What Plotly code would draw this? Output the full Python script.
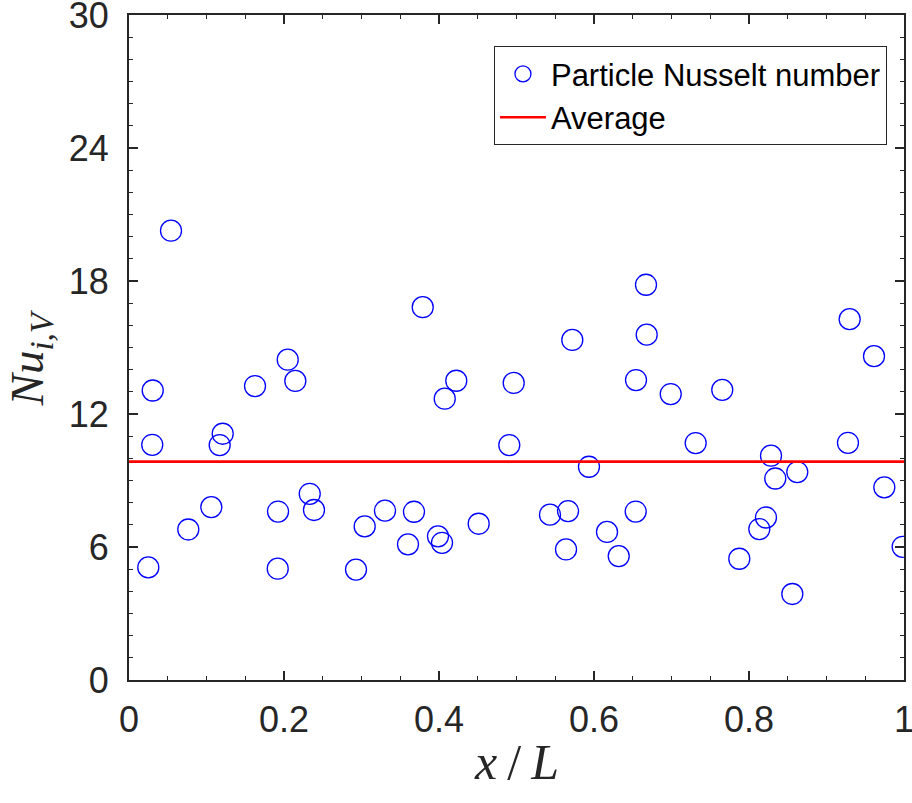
import plotly.graph_objects as go

# Dimensionless particle position along the bed
x_pos = [0.0306, 0.0300, 0.0249, 0.0542, 0.0765, 0.1062, 0.1170, 0.1209, 0.1626,
         0.1923, 0.1919, 0.2048, 0.2146, 0.2332, 0.2387, 0.2929, 0.3041, 0.3303,
         0.3600, 0.3677, 0.3790, 0.3987, 0.4039, 0.4074, 0.4223, 0.4512, 0.4907,
         0.4964, 0.5432, 0.5665, 0.5639, 0.5720, 0.5935, 0.6168, 0.6319, 0.6538,
         0.6542, 0.6671, 0.6680, 0.6990, 0.7312, 0.7655, 0.7875, 0.8133, 0.8219,
         0.8284, 0.8339, 0.8559, 0.8623, 0.9277, 0.9299, 0.9613, 0.9746, 0.9983]

# Volume-averaged Nusselt number of each particle
nu_particle = [13.06, 10.61, 5.08, 20.27, 6.79, 7.80, 10.60, 11.11, 13.26,
               7.60, 5.02, 14.45, 13.49, 8.40, 7.67, 4.98, 6.93, 7.64,
               6.12, 7.59, 16.82, 6.48, 6.19, 12.69, 13.50, 7.05, 10.60,
               13.40, 7.46, 7.62, 5.89, 15.34, 9.62, 6.68, 5.59, 7.60,
               13.53, 17.83, 15.58, 12.90, 10.69, 13.09, 5.47, 6.81, 7.33,
               10.12, 9.09, 3.88, 9.38, 10.70, 16.28, 14.61, 8.69, 6.01]

nu_average = 9.85
avg_x = [0, 1]

x_ticks = [0, 0.2, 0.4, 0.6, 0.8, 1]
x_tick_text = ["0", "0.2", "0.4", "0.6", "0.8", "1"]
y_ticks = [0, 6, 12, 18, 24, 30]

AX = "#262626"
TICK_FONT = dict(family="Liberation Sans, Arial, sans-serif", size=36, color=AX)
SERIF = "Liberation Serif, Times New Roman, serif"

fig = go.Figure()
fig.add_trace(go.Scatter(
    x=x_pos, y=nu_particle, mode="markers", name="Particle Nusselt number",
    marker=dict(symbol="circle-open", size=21, color="#0000ff",
                line=dict(width=1.3, color="#0000ff")),
))
fig.add_trace(go.Scatter(
    x=avg_x, y=[nu_average, nu_average], mode="lines", name="Average",
    line=dict(color="#ff0000", width=2.6),
))

axis_common = dict(
    showline=True, linewidth=2, linecolor=AX, mirror="allticks",
    ticks="inside", ticklen=9, tickwidth=1.6, tickcolor=AX,
    showgrid=False, zeroline=False, tickfont=TICK_FONT,
    automargin=False, ticklabeloverflow="allow",
)

fig.update_xaxes(range=[0, 1], tickvals=x_ticks, ticktext=x_tick_text,
                 minor=dict(ticks="inside", ticklen=4, dtick=0.05,
                            tickcolor=AX, tickwidth=1.4),
                 ticklabelstandoff=7, **axis_common)
fig.update_yaxes(range=[0, 30], tickvals=y_ticks,
                 minor=dict(ticks="inside", ticklen=4, dtick=1,
                            tickcolor=AX, tickwidth=1.4),
                 ticklabelstandoff=11, **axis_common)

fig.add_annotation(text="<i>Nu</i><sub><i>i,V</i></sub>", xref="paper", yref="paper",
                   x=-0.1265, y=0.485, xanchor="center", yanchor="middle",
                   textangle=-90, showarrow=False,
                   font=dict(family=SERIF, size=47, color=AX))
fig.add_annotation(text="<i>x</i>\u2009/\u2009<i>L</i>", xref="paper", yref="paper",
                   x=0.5, y=-0.124, xanchor="center", yanchor="middle",
                   showarrow=False,
                   font=dict(family=SERIF, size=50, color=AX))

fig.update_layout(
    width=912, height=803,
    margin=dict(l=129, r=8, t=15, b=123),
    paper_bgcolor="white", plot_bgcolor="white",
    showlegend=True,
    legend=dict(x=0.978, y=0.953, xanchor="right", yanchor="top",
                bgcolor="white", bordercolor=AX, borderwidth=1,
                font=dict(family="Liberation Sans, Arial, sans-serif", size=31,
                          color="black"),
                tracegroupgap=0, itemwidth=46),
)

fig.write_html("out.html")
